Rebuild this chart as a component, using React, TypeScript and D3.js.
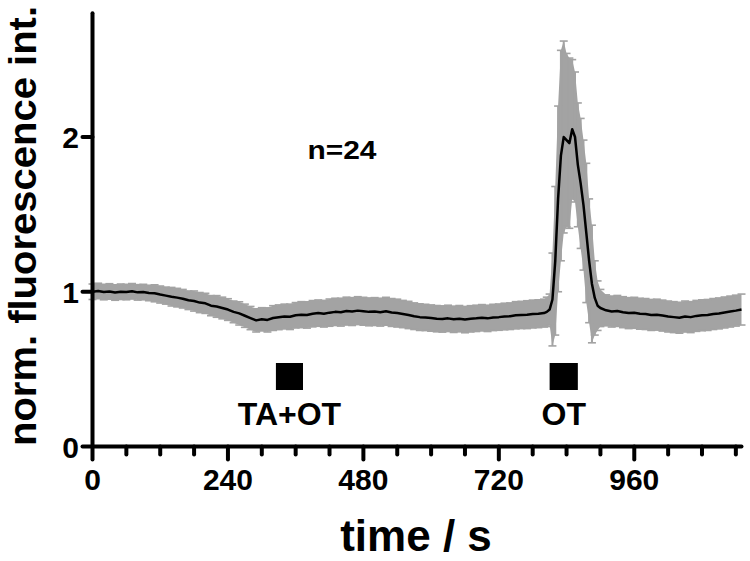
import React from "react";
import * as d3 from "d3";

// time points (s), mean normalised fluorescence and SEM
const times = [
  0, 10, 20, 30, 40, 50, 60, 70, 80, 90, 100, 110, 120, 130, 140, 150, 160, 170, 180, 190, 200,
  210, 220, 230, 240, 250, 260, 270, 280, 290, 300, 310, 320, 330, 340, 350, 360, 370, 380, 390,
  400, 410, 420, 430, 440, 450, 460, 470, 480, 490, 500, 510, 520, 530, 540, 550, 560, 570, 580,
  590, 600, 610, 620, 630, 640, 650, 660, 670, 680, 690, 700, 710, 720, 730, 740, 750, 760, 770,
  780, 790, 800, 805, 810, 815, 820, 825, 830, 835, 840, 845, 850, 855, 860, 865, 870, 875, 880,
  885, 890, 895, 900, 910, 920, 930, 940, 950, 960, 970, 980, 990, 1000, 1010, 1020, 1030, 1040,
  1050, 1060, 1070, 1080, 1090, 1100, 1110, 1120, 1130, 1140, 1150,
];
const meanValues = [
  1.0, 1.005, 0.998, 1.002, 0.995, 1.0, 0.998, 1.003, 0.996, 0.998, 0.992, 0.99, 0.982, 0.975,
  0.968, 0.962, 0.955, 0.945, 0.94, 0.93, 0.925, 0.91, 0.905, 0.895, 0.885, 0.87, 0.86, 0.845,
  0.83, 0.815, 0.822, 0.818, 0.83, 0.835, 0.84, 0.838, 0.848, 0.852, 0.85, 0.858, 0.862, 0.858,
  0.865, 0.87, 0.868, 0.875, 0.872, 0.878, 0.874, 0.87, 0.872, 0.868, 0.874, 0.866, 0.862, 0.856,
  0.85, 0.842, 0.836, 0.834, 0.83, 0.826, 0.824, 0.828, 0.822, 0.826, 0.82, 0.825, 0.828, 0.832,
  0.828, 0.834, 0.836, 0.84, 0.842, 0.848, 0.85, 0.852, 0.856, 0.858, 0.862, 0.87, 0.885, 0.95,
  1.2, 1.6, 1.88, 2.0, 1.98, 1.96, 2.05, 2.0, 1.82, 1.7, 1.56, 1.38, 1.2, 1.05, 0.96, 0.91, 0.895,
  0.88, 0.872, 0.876, 0.868, 0.862, 0.864, 0.858, 0.856, 0.85, 0.852, 0.846, 0.84, 0.836, 0.832,
  0.84, 0.836, 0.844, 0.848, 0.85, 0.856, 0.86, 0.866, 0.872, 0.878, 0.885,
];
const semValues = [
  0.05, 0.05, 0.05, 0.05, 0.05, 0.05, 0.05, 0.05, 0.05, 0.05, 0.05,
  0.055, 0.055, 0.055, 0.06, 0.06, 0.06, 0.06, 0.065, 0.065, 0.065,
  0.065, 0.07, 0.07, 0.07, 0.07, 0.075, 0.075, 0.075, 0.075, 0.075,
  0.078, 0.08, 0.08, 0.08, 0.082, 0.082, 0.084, 0.085, 0.085, 0.085,
  0.086, 0.088, 0.088, 0.09, 0.09, 0.09, 0.09, 0.09, 0.09, 0.09,
  0.09, 0.09, 0.09, 0.09, 0.088, 0.088, 0.086, 0.086, 0.085, 0.085,
  0.085, 0.085, 0.085, 0.085, 0.085, 0.085, 0.085, 0.085, 0.085, 0.085,
  0.085, 0.085, 0.086, 0.086, 0.088, 0.088, 0.09, 0.09, 0.09, 0.09,
  0.095, 0.1, 0.3, 0.48, 0.6, 0.68, 0.62, 0.56, 0.55, 0.45, 0.42, 0.4, 0.42, 0.42, 0.45, 0.4,
  0.38, 0.24, 0.16, 0.12,
  0.1, 0.1, 0.1, 0.1, 0.1, 0.1, 0.1, 0.1, 0.1, 0.1, 0.1, 0.1, 0.1, 0.1, 0.1, 0.1, 0.1, 0.1, 0.1,
  0.1, 0.1, 0.1, 0.1, 0.1, 0.1,
];

const xMajorTicks = [0, 240, 480, 720, 960];
const xMinorTicks = [60, 120, 180, 300, 360, 420, 540, 600, 660, 780, 840, 900, 1020, 1080, 1140];
const yTicks = [0, 1, 2];

// application periods (s)
const stimuli = [
  { label: "TA+OT", start: 325, end: 373 },
  { label: "OT", start: 810, end: 860 },
];

const W = 750;
const H = 561;
const FONT = "'Liberation Sans', Arial, sans-serif";
const GREY = "#a3a3a3";

type Pt = { t: number; m: number; s: number };

export default function App() {
  const x = d3.scaleLinear().domain([0, 1150]).range([92.5, 741.5]);
  const y = d3.scaleLinear().domain([0, 2.8]).range([446.5, 13.2]);

  const data: Pt[] = times.map((t, i) => ({ t, m: meanValues[i], s: semValues[i] }));

  const band = d3
    .area<Pt>()
    .x((d) => x(d.t))
    .y0((d) => y(d.m - d.s))
    .y1((d) => y(d.m + d.s));
  const line = d3
    .line<Pt>()
    .x((d) => x(d.t))
    .y((d) => y(d.m));

  return (
    <svg
      width={W}
      height={H}
      style={{ position: "absolute", left: 0, top: 0, background: "#fff" }}
      fontFamily={FONT}
    >
      {/* SEM band with error bar caps */}
      <path d={band(data) || ""} fill={GREY} />
      {data.map((d) => (
        <g key={d.t} stroke={GREY} strokeWidth={1.6}>
          {d.s > 0.2 && <line x1={x(d.t)} x2={x(d.t)} y1={y(d.m - d.s)} y2={y(d.m + d.s)} strokeWidth={2} />}
          <line x1={x(d.t) - 4} x2={x(d.t) + 4} y1={y(d.m + d.s)} y2={y(d.m + d.s)} />
          <line x1={x(d.t) - 4} x2={x(d.t) + 4} y1={y(d.m - d.s)} y2={y(d.m - d.s)} />
        </g>
      ))}
      {/* mean trace */}
      <path d={line(data) || ""} fill="none" stroke="#000" strokeWidth={2.5} strokeLinejoin="round" />

      {/* stimulus markers */}
      {stimuli.map((s) => (
        <g key={s.label}>
          <rect x={x(s.start)} y={363} width={x(s.end) - x(s.start)} height={27} fill="#000" />
          <text
            x={(x(s.start) + x(s.end)) / 2}
            y={425}
            textAnchor="middle"
            fontSize={32}
            fontWeight="bold"
          >
            {s.label}
          </text>
        </g>
      ))}

      <text x={342} y={159} textAnchor="middle" fontSize={26} fontWeight="bold" textLength={69} lengthAdjust="spacingAndGlyphs">
        n=24
      </text>

      {/* axes */}
      <g stroke="#000" strokeWidth={4} strokeLinecap="round">
        <line x1={x(0)} x2={x(0)} y1={y(2.8)} y2={y(0)} />
        <line x1={x(0)} x2={x(1150)} y1={y(0)} y2={y(0)} />
        {xMajorTicks.map((t) => (
          <line key={"M" + t} x1={x(t)} x2={x(t)} y1={y(0)} y2={y(0) + 13} />
        ))}
        {xMinorTicks.map((t) => (
          <line key={"m" + t} x1={x(t)} x2={x(t)} y1={y(0)} y2={y(0) + 8} />
        ))}
        {yTicks.map((t) => (
          <line key={"y" + t} x1={x(0) - 10} x2={x(0)} y1={y(t)} y2={y(t)} />
        ))}
      </g>
      {xMajorTicks.map((t) => (
        <text key={"xl" + t} x={x(t)} y={490} textAnchor="middle" fontSize={30} fontWeight="bold">
          {t}
        </text>
      ))}
      {yTicks.map((t) => (
        <text key={"yl" + t} x={79} y={y(t) + 11} textAnchor="end" fontSize={30} fontWeight="bold">
          {t}
        </text>
      ))}

      <text x={416} y={551} textAnchor="middle" fontSize={44} fontWeight="bold">
        time / s
      </text>
      <text
        transform="translate(36,226) rotate(-90)"
        textAnchor="middle"
        fontSize={39}
        fontWeight="bold"
        textLength={440}
        lengthAdjust="spacingAndGlyphs"
      >
        norm. fluorescence int.
      </text>
    </svg>
  );
}
